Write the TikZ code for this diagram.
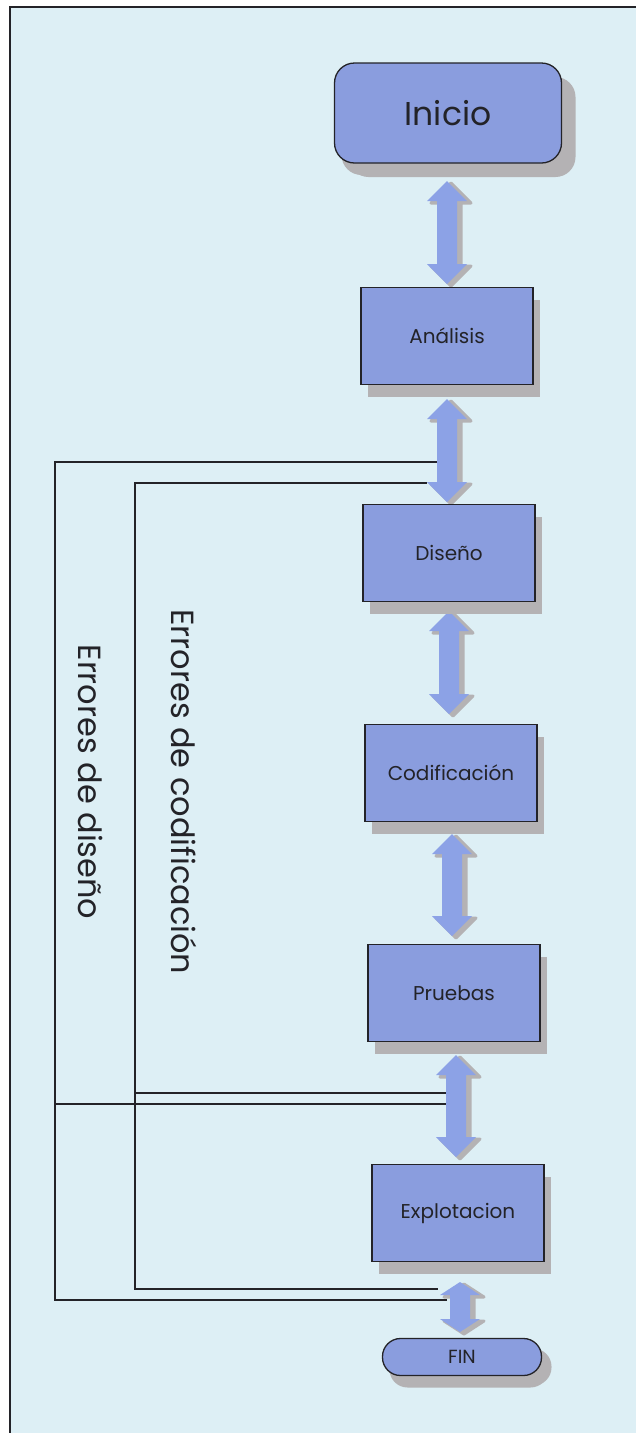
\documentclass[tikz,border=0pt]{standalone}
\usepackage{fontspec}
\setmainfont{Poppins}
\usetikzlibrary{shadows}
\definecolor{bg}{RGB}{221,239,245}
\definecolor{boxfill}{RGB}{138,157,222}
\definecolor{shadowgray}{RGB}{180,178,180}
\definecolor{arrowblue}{RGB}{140,162,230}
\definecolor{ink}{RGB}{35,35,40}
\newcommand{\fatarrow}[4]{%
 \fill[shadowgray, draw=shadowgray, line width=3pt, line join=round, shift={(4,2)}]
  ({#1},{#2}) -- ({#1+20},{#2+#4}) -- ({#1+10},{#2+#4}) -- ({#1+10},{#3-#4}) -- ({#1+20},{#3-#4}) -- ({#1},{#3})
  -- ({#1-20},{#3-#4}) -- ({#1-10},{#3-#4}) -- ({#1-10},{#2+#4}) -- ({#1-20},{#2+#4}) -- cycle;
 \fill[arrowblue]
  ({#1},{#2}) -- ({#1+20},{#2+#4}) -- ({#1+10},{#2+#4}) -- ({#1+10},{#3-#4}) -- ({#1+20},{#3-#4}) -- ({#1},{#3})
  -- ({#1-20},{#3-#4}) -- ({#1-10},{#3-#4}) -- ({#1-10},{#2+#4}) -- ({#1-20},{#2+#4}) -- cycle;}
\tikzset{
 stage/.style={draw=ink, line width=1.3pt, fill=boxfill, minimum width=172pt, minimum height=97pt,
   font=\fontsize{20}{24}\selectfont, text=ink, inner sep=0pt,
   drop shadow={shadow xshift=7pt, shadow yshift=-12pt, fill=shadowgray, opacity=1}},
 terminal/.style={stage, rounded corners=18pt},
 feedback/.style={draw=ink, line width=1.4pt},
 errlabel/.style={rotate=-90, font=\fontsize{32}{38}\selectfont, text=ink, inner sep=0pt}
}
\begin{document}
\begin{tikzpicture}[x=1pt,y=-1pt]
\useasboundingbox (0,0) rectangle (636,1433);
\fill[white] (0,0) rectangle (636,1433);
\fill[bg] (10,7) rectangle (636,1433);
\draw[ink, line width=1.5pt] (636,7) -- (10,7) -- (10,1433);

% arrows
\fatarrow{447}{181}{284}{20}
\fatarrow{447}{399}{502}{20}
\fatarrow{449}{611}{714}{20}
\fatarrow{452}{834}{936}{20}
\fatarrow{456}{1055}{1157}{20}
\fatarrow{460}{1282}{1332}{13}

% stages
\node[terminal, minimum width=227pt, minimum height=100pt, rounded corners=20pt,
  font=\fontsize{33}{38}\selectfont,
  drop shadow={shadow xshift=14pt, shadow yshift=-14pt, fill=shadowgray, opacity=1}] (inicio) at (448,113) {Inicio};
\node[stage] (analisis) at (447,336) {Análisis};
\node[stage] (diseno) at (449,553) {Diseño};
\node[stage] (codif) at (451,773) {Codificación};
\node[stage] (pruebas) at (454,993) {Pruebas};
\node[stage] (explot) at (458,1213) {Explotacion};
\node[terminal, minimum width=159pt, minimum height=37pt, font=\fontsize{19}{22}\selectfont,
  drop shadow={shadow xshift=10pt, shadow yshift=-10pt, fill=shadowgray, opacity=1}] (fin) at (462,1357) {FIN};

% feedback loop end points
\coordinate (d1) at (437,462);
\coordinate (d2) at (446,1104);
\coordinate (d3) at (447,1300);
\coordinate (c1) at (427,483);
\coordinate (c2) at (446,1093);
\coordinate (c3) at (438,1289);
\coordinate (dtop) at (55,462);
\coordinate (dmid) at (55,1104);
\coordinate (dbot) at (55,1300);
\coordinate (ctop) at (135,483);
\coordinate (cmid) at (135,1093);
\coordinate (cbot) at (135,1289);

\draw[feedback] (d1) -- (dtop) -- (dbot) -- (d3);
\draw[feedback] (dmid) -- (d2);
\draw[feedback] (c1) -- (ctop) -- (cbot) -- (c3);
\draw[feedback] (cmid) -- (c2);

\node[errlabel] (ldis) at (91,782) {Errores de diseño};
\node[errlabel] (lcod) at (184,792) {Errores de codificación};
\end{tikzpicture}
\end{document}
